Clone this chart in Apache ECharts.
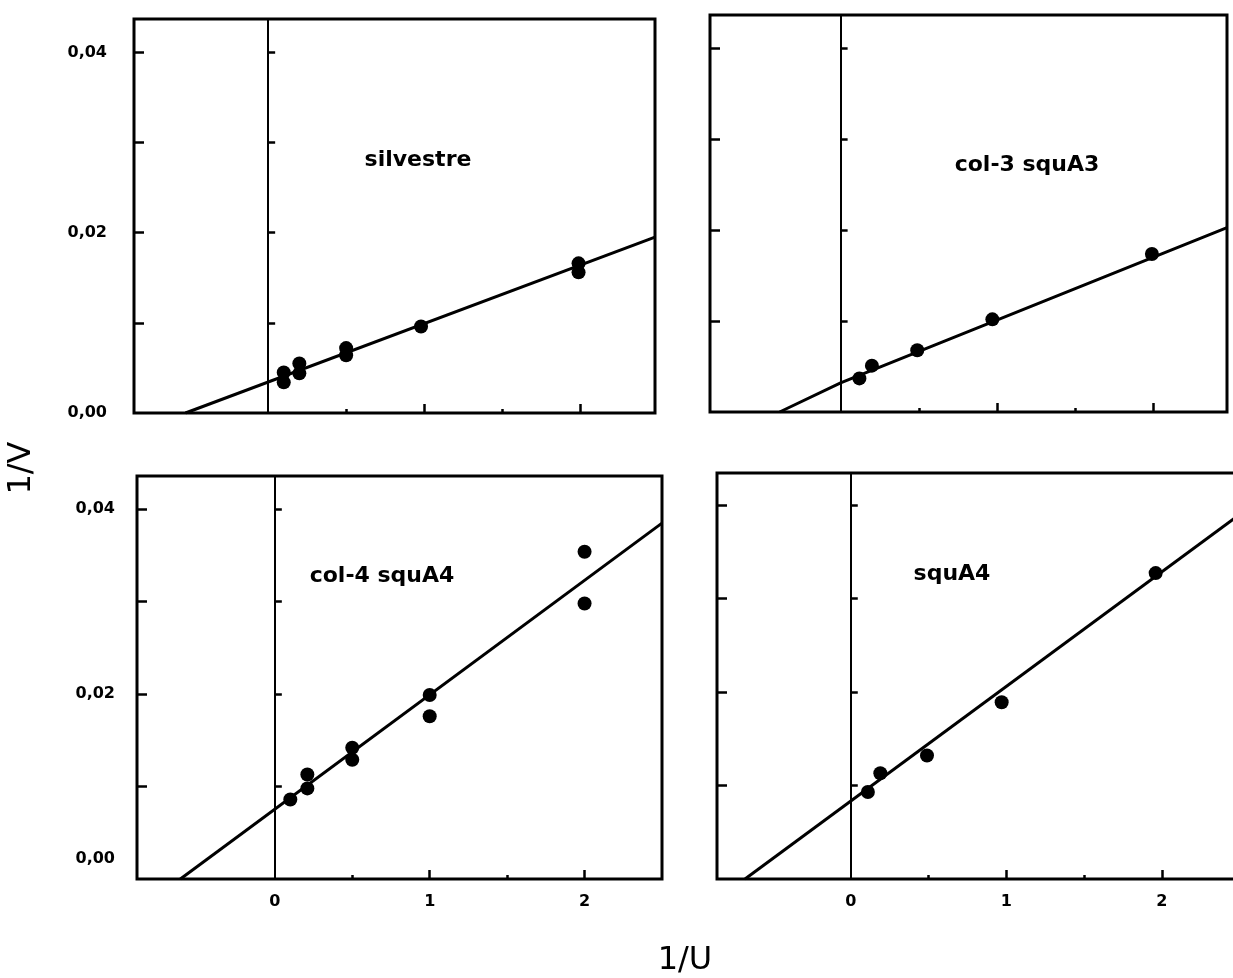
<!DOCTYPE html>
<html><head><meta charset="utf-8">
<script src="https://cdn.jsdelivr.net/npm/echarts@6/dist/echarts.min.js"></script>
<style>html,body{margin:0;padding:0;background:#fff}#c{width:1233px;height:978px}</style>
</head><body><div id="c"></div>
<script>
// ---------------- data ----------------
const panelNames = ['silvestre', 'col-3 squA3', 'col-4 squA4', 'squA4'];
const yTickValues = [0, 0.02, 0.04];
const yTickLabels = ['0,00', '0,02', '0,04'];
const yTickMarks = [0.01, 0.02, 0.03, 0.04];
const xTickValues = [0, 1, 2];
const xTickLabels = ['0', '1', '2'];
const xMajorTicks = [1, 2];
const xMinorTicks = [0.5, 1.5];
const xAxisTitle = '1/U';
const yAxisTitle = '1/V';

const silvestreX = [0.10, 0.10, 0.20, 0.20, 0.50, 0.50, 0.98, 1.99, 1.99];
const silvestreY = [0.0045, 0.0034, 0.0055, 0.0044, 0.0072, 0.0064, 0.0096, 0.0166, 0.0156];
const silvestreLineX = [-0.53, 2.48];
const silvestreLineY = [0, 0.0195];

const col3X = [0.12, 0.20, 0.49, 0.97, 1.99];
const col3Y = [0.0037, 0.0051, 0.0068, 0.0102, 0.0174];
const col3LineX = [-0.39, 0, 2.47];
const col3LineY = [0, 0.0032, 0.0203];

const col4X = [0.10, 0.21, 0.21, 0.50, 0.50, 1.00, 1.00, 2.00, 2.00];
const col4Y = [0.0086, 0.0113, 0.0098, 0.0142, 0.0129, 0.0199, 0.0176, 0.0354, 0.0298];
const col4LineX = [-0.61, 2.5];
const col4LineY = [0, 0.0385];

const squA4X = [0.11, 0.19, 0.49, 0.97, 1.96];
const squA4Y = [0.0093, 0.0113, 0.0132, 0.0189, 0.0327];
const squA4LineX = [-0.68, 2.56];
const squA4LineY = [0, 0.0397];

// ---------------- layout ----------------
const FONT = '"DejaVu Sans", "Liberation Sans", sans-serif';
const panels = [
  { grid: {left: 134, top: 19, width: 521, height: 394}, xMin: -0.86, xMax: 2.48, yMax: 0.0437,
    yLabels: true, xLabels: false, text: [418, 160], px: silvestreX, py: silvestreY, lx: silvestreLineX, ly: silvestreLineY, lift0: false },
  { grid: {left: 710, top: 15, width: 517, height: 397}, xMin: -0.835, xMax: 2.47, yMax: 0.0437,
    yLabels: false, xLabels: false, text: [1027, 165], px: col3X, py: col3Y, lx: col3LineX, ly: col3LineY, lift0: false },
  { grid: {left: 137, top: 476, width: 525, height: 403}, xMin: -0.89, xMax: 2.5, yMax: 0.0436,
    yLabels: true, xLabels: true, text: [382, 576], px: col4X, py: col4Y, lx: col4LineX, ly: col4LineY, lift0: true },
  { grid: {left: 717, top: 473, width: 532, height: 406}, xMin: -0.86, xMax: 2.56, yMax: 0.0434,
    yLabels: false, xLabels: true, text: [952, 574], px: squA4X, py: squA4Y, lx: squA4LineX, ly: squA4LineY, lift0: false }
];

const zip = (a, b) => a.map((v, i) => [v, b[i]]);
const grids = [], xAxes = [], yAxes = [], series = [], graphics = [];

panels.forEach((p, i) => {
  grids.push(Object.assign({show: true, borderColor: '#000', borderWidth: 3, backgroundColor: 'transparent',
    containLabel: false, outerBoundsMode: 'none'}, p.grid));
  xAxes.push({
    type: 'value', gridIndex: i, min: p.xMin, max: p.xMax, position: 'bottom',
    splitLine: {show: false}, axisLine: {show: false, onZero: false},
    axisTick: {show: true, inside: true, length: 9, customValues: xMajorTicks, lineStyle: {color: '#000', width: 2.5}},
    axisLabel: {show: p.xLabels, customValues: xTickValues, margin: 15,
      formatter: v => xTickLabels[xTickValues.indexOf(v)] ?? '',
      color: '#000', fontSize: 16, fontWeight: 'bold', fontFamily: FONT}
  });
  xAxes.push({
    type: 'value', gridIndex: i, min: p.xMin, max: p.xMax, position: 'bottom',
    splitLine: {show: false}, axisLine: {show: false, onZero: false},
    axisTick: {show: true, inside: true, length: 4, customValues: xMinorTicks, lineStyle: {color: '#000', width: 2.5}},
    axisLabel: {show: false}
  });
  yAxes.push({
    type: 'value', gridIndex: i, min: 0, max: p.yMax, position: 'left',
    splitLine: {show: false}, axisLine: {show: false, onZero: false},
    axisTick: {show: true, inside: true, length: 10, customValues: yTickMarks, lineStyle: {color: '#000', width: 2.5}},
    axisLabel: {show: p.yLabels, customValues: yTickValues, margin: p.lift0 ? 22 : 27,
      formatter: v => {
        const s = yTickLabels[yTickValues.indexOf(v)] ?? '';
        return (p.lift0 && v === 0) ? '{z|' + s + '}' : s;
      },
      rich: {z: {padding: [0, 0, 40, 0], fontSize: 16, fontWeight: 'bold', fontFamily: FONT, color: '#000'}},
      color: '#000', fontSize: 16, fontWeight: 'bold', fontFamily: FONT}
  });
  yAxes.push({
    type: 'value', gridIndex: i, min: 0, max: p.yMax, position: 'left',
    splitLine: {show: false},
    axisLine: {show: true, onZero: true, lineStyle: {color: '#000', width: 2}},
    axisTick: {show: true, inside: true, length: 7, customValues: yTickMarks, lineStyle: {color: '#000', width: 2.5}},
    axisLabel: {show: false}
  });
  series.push({
    type: 'line', xAxisIndex: 2 * i, yAxisIndex: 2 * i, data: zip(p.lx, p.ly),
    showSymbol: false, symbol: 'none', lineStyle: {color: '#000', width: 3}, clip: true, z: 3, silent: true
  });
  series.push({
    type: 'scatter', xAxisIndex: 2 * i, yAxisIndex: 2 * i, data: zip(p.px, p.py),
    symbol: 'circle', symbolSize: 14, itemStyle: {color: '#000', opacity: 1}, z: 4, silent: true
  });
  graphics.push({
    type: 'text', x: p.text[0], y: p.text[1],
    style: {text: panelNames[i], align: 'center', verticalAlign: 'middle', font: 'bold 22px ' + FONT, fill: '#000'}
  });
});

graphics.push({
  type: 'text', x: 685, y: 961,
  style: {text: xAxisTitle, align: 'center', verticalAlign: 'middle', font: '32px ' + FONT, fill: '#000'}
});
graphics.push({
  type: 'text', x: 22, y: 468, rotation: Math.PI / 2,
  style: {text: yAxisTitle, align: 'center', verticalAlign: 'middle', font: '32px ' + FONT, fill: '#000'}
});

const chart = echarts.init(document.getElementById('c'), null, {renderer: 'canvas'});
chart.setOption({
  animation: false,
  backgroundColor: '#fff',
  grid: grids,
  xAxis: xAxes,
  yAxis: yAxes,
  series: series,
  graphic: graphics
});
</script>
</body></html>
